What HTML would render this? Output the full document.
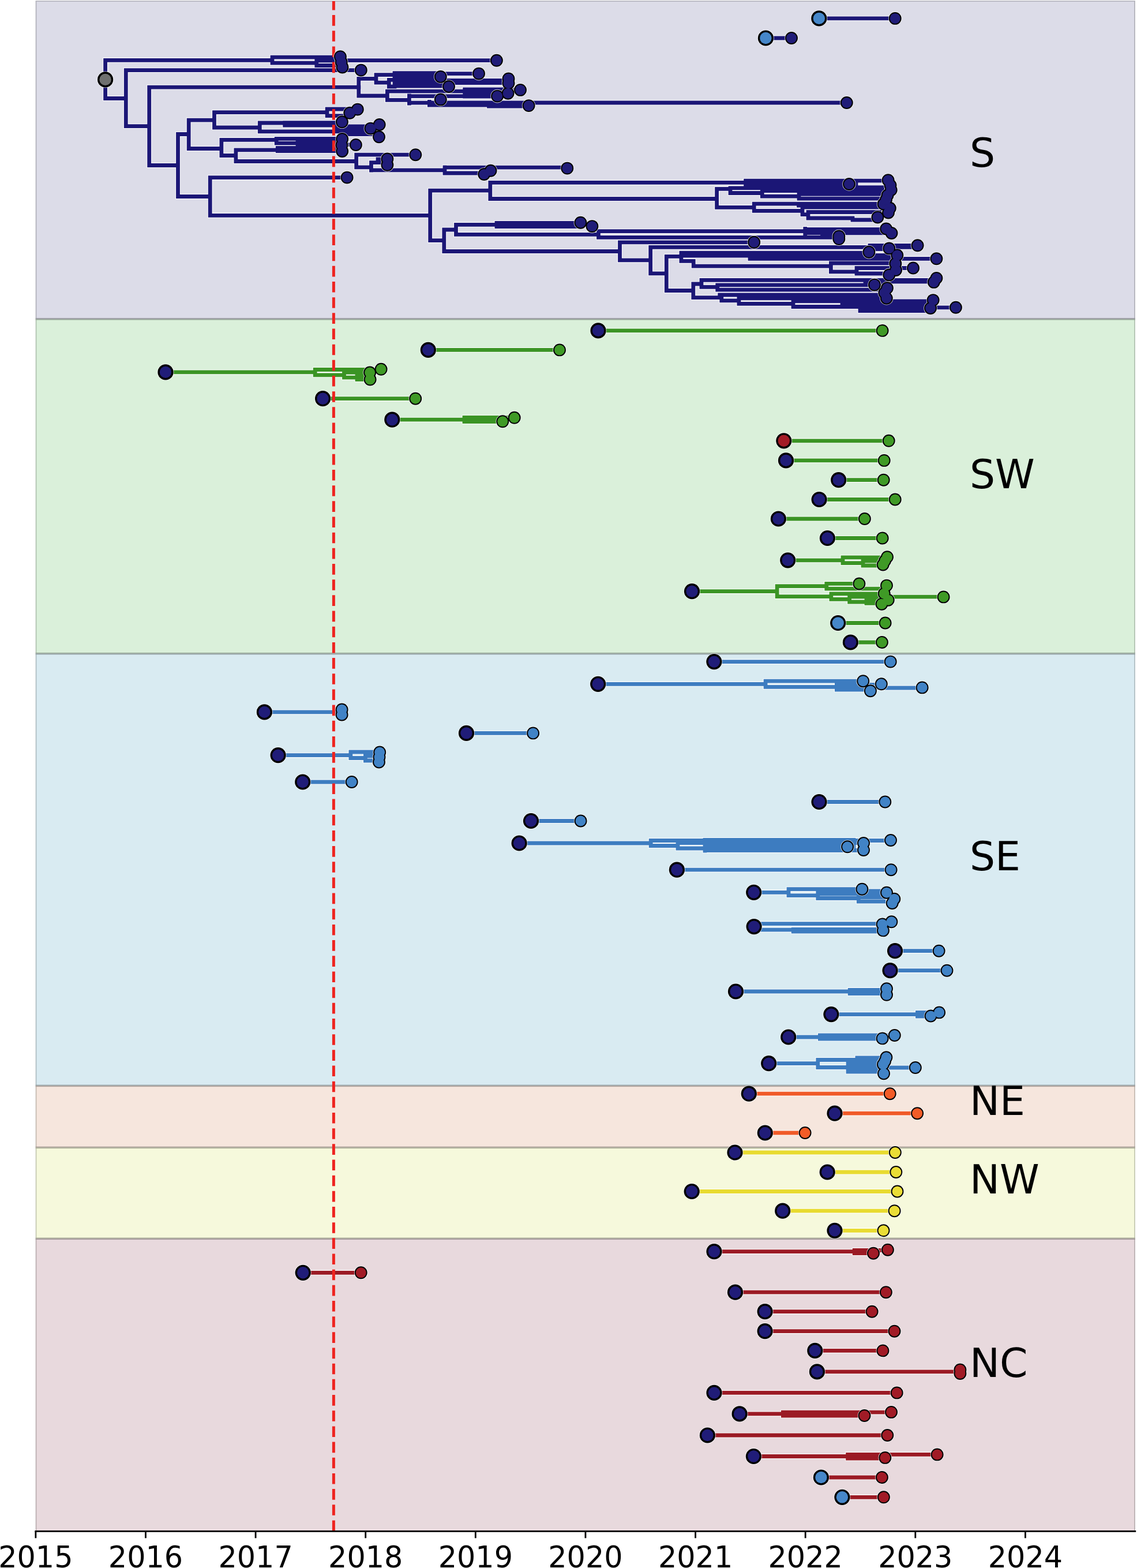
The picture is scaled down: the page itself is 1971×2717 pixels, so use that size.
<!DOCTYPE html><html><head><meta charset="utf-8"><title>Phylogeography timeline</title><style>html,body{margin:0;padding:0;background:#fff;}svg{display:block;}text{font-family:"DejaVu Sans","Liberation Sans",sans-serif;}</style></head><body>
<svg width="1971" height="2717" viewBox="0 0 1971 2717">
<rect x="0" y="0" width="1971" height="2717" fill="#fff"/>
<rect x="62.5" y="2.0" width="1904.5" height="550.8" fill="#dcdce8"/>
<rect x="62.5" y="552.8" width="1904.5" height="579.8" fill="#daf0da"/>
<rect x="62.5" y="1132.6" width="1904.5" height="748.8" fill="#d9ebf2"/>
<rect x="62.5" y="1881.4" width="1904.5" height="107.0" fill="#f6e6dd"/>
<rect x="62.5" y="1988.4" width="1904.5" height="157.9" fill="#f6f9dc"/>
<rect x="62.5" y="2146.3" width="1904.5" height="506.7" fill="#e8d9dd"/>
<rect x="61.7" y="2.0" width="1.7" height="550.8" fill="#b0b0b9"/>
<rect x="1966.1" y="2.0" width="1.7" height="550.8" fill="#b0b0b9"/>
<rect x="61.7" y="1.2" width="1906.2" height="1.6" fill="#b0b0b9"/>
<rect x="61.7" y="551.1" width="1906.2" height="1.7" fill="#9797a0"/>
<rect x="61.7" y="552.8" width="1.7" height="579.8" fill="#aec0ae"/>
<rect x="1966.1" y="552.8" width="1.7" height="579.8" fill="#aec0ae"/>
<rect x="61.7" y="552.8" width="1906.2" height="1.7" fill="#96a596"/>
<rect x="61.7" y="1130.9" width="1906.2" height="1.7" fill="#96a596"/>
<rect x="61.7" y="1132.6" width="1.7" height="748.8" fill="#adbcc1"/>
<rect x="1966.1" y="1132.6" width="1.7" height="748.8" fill="#adbcc1"/>
<rect x="61.7" y="1132.6" width="1906.2" height="1.7" fill="#95a2a6"/>
<rect x="61.7" y="1879.7" width="1906.2" height="1.7" fill="#95a2a6"/>
<rect x="61.7" y="1881.4" width="1.7" height="107.0" fill="#c4b8b0"/>
<rect x="1966.1" y="1881.4" width="1.7" height="107.0" fill="#c4b8b0"/>
<rect x="61.7" y="1881.4" width="1906.2" height="1.7" fill="#a99e98"/>
<rect x="61.7" y="1986.7" width="1906.2" height="1.7" fill="#a99e98"/>
<rect x="61.7" y="1988.4" width="1.7" height="157.9" fill="#c4c7b0"/>
<rect x="1966.1" y="1988.4" width="1.7" height="157.9" fill="#c4c7b0"/>
<rect x="61.7" y="1988.4" width="1906.2" height="1.7" fill="#a9ab97"/>
<rect x="61.7" y="2144.6" width="1906.2" height="1.7" fill="#a9ab97"/>
<rect x="61.7" y="2146.3" width="1.7" height="506.7" fill="#b9adb0"/>
<rect x="1966.1" y="2146.3" width="1.7" height="506.7" fill="#b9adb0"/>
<rect x="61.7" y="2146.3" width="1906.2" height="1.7" fill="#a09598"/>
<g font-size="69.5" fill="#000">
<text x="1681" y="288.7">S</text>
<text x="1681" y="846.3">SW</text>
<text x="1681" y="1507.5">SE</text>
<text x="1681" y="1932.4">NE</text>
<text x="1681" y="2067.5">NW</text>
<text x="1681" y="2386.3">NC</text>
</g>
<g fill="none" stroke-linecap="square" stroke-linejoin="miter">
<g stroke="#fff" stroke-width="9.0" stroke-opacity="0.88">
<path d="M1037.0 572.9H1529.6M742.3 606.4H970.0M287.0 644.9H546.2M546.2 640.5V649.8M546.2 640.5H660.6M546.2 649.8H596.5M596.5 645.4V654.2M596.5 645.4H641.0M596.5 654.2H619.0M619.0 651.0V657.5M619.0 651.0H641.0M619.0 657.5H641.0M559.6 690.7H720.2M679.8 727.2H805.0M805.0 723.5V730.5M805.0 723.5H891.7M805.0 730.5H871.3M1358.8 763.8H1540.7M1362.5 797.9H1532.7M1453.7 831.7H1531.7M1420.1 865.5H1551.7M1349.4 899.0H1498.9M1434.4 932.5H1529.7M1365.7 970.8H1461.0M1461.0 965.8V975.6M1461.0 965.8H1536.0M1461.0 975.6H1496.0M1496.0 972.0V980.0M1496.0 972.0H1532.0M1496.0 980.0H1530.0M1199.5 1024.7H1347.1M1347.1 1015.6V1033.6M1347.1 1015.6H1432.8M1432.8 1011.4V1020.2M1432.8 1011.4H1489.4M1432.8 1020.2H1530.0M1347.1 1033.6H1440.9M1440.9 1028.8V1038.3M1440.9 1028.8H1530.0M1440.9 1038.3H1472.6M1472.6 1034.2V1043.0M1472.6 1034.2H1635.6M1472.6 1043.0H1502.0M1502.0 1040.0V1045.4M1502.0 1040.0H1530.0M1502.0 1045.4H1530.0M1452.7 1079.5H1534.6M1474.4 1113.0H1528.9"/>
<path d="M1237.9 1146.6H1543.7M1036.7 1185.3H1327.1M1327.1 1180.2V1190.4M1327.1 1180.2H1496.2M1327.1 1190.4H1450.4M1450.4 1186.5V1195.0M1450.4 1186.5H1527.8M1450.4 1192.0H1598.6M1450.4 1195.0H1508.9M458.4 1233.9H592.6M808.5 1270.4H924.1M482.1 1308.7H607.9M607.9 1303.0V1313.5M607.9 1303.0H658.0M607.9 1313.5H633.4M633.4 1310.0V1318.0M633.4 1310.0H657.0M633.4 1318.0H657.0M524.7 1355.0H609.7M1420.0 1389.5H1534.3M920.5 1422.5H1006.6M900.1 1461.0H1128.2M1128.2 1456.5V1465.5M1128.2 1456.5H1544.0M1128.2 1465.5H1175.0M1175.0 1460.5V1470.0M1175.0 1460.5H1497.0M1175.0 1470.0H1222.0M1222.0 1464.0V1474.0M1222.0 1455.5H1480.0M1222.0 1460.0H1480.0M1222.0 1464.0H1480.0M1222.0 1468.0H1480.0M1222.0 1472.0H1480.0M1222.0 1473.5H1497.0M1173.4 1507.2H1544.6M1306.7 1546.3H1367.0M1367.0 1540.7V1551.6M1367.0 1540.7H1494.4M1367.0 1551.6H1417.8M1417.8 1549.2V1556.5M1417.8 1544.0H1532.0M1417.8 1549.2H1532.0M1417.8 1556.5H1488.3M1488.3 1554.5V1562.0M1488.3 1554.5H1545.0M1488.3 1562.0H1532.0M1307.1 1605.6H1314.0M1314.0 1600.6V1611.2M1314.0 1600.6H1530.0M1314.0 1611.2H1375.2M1375.2 1610.4V1614.0M1375.2 1610.4H1530.0M1375.2 1614.0H1530.0M1551.5 1647.7H1627.6M1543.0 1681.7H1641.5M1275.5 1718.0H1473.2M1473.2 1715.3V1721.5M1473.2 1715.3H1537.0M1473.2 1721.5H1537.0M1440.9 1757.6H1590.4M1590.4 1754.4V1761.0M1590.4 1754.4H1628.1M1590.4 1761.0H1613.5M1366.7 1797.0H1421.4M1421.4 1794.0V1800.0M1421.4 1794.0H1550.8M1421.4 1800.0H1529.6M1332.7 1842.7H1417.8M1417.8 1836.5V1849.5M1417.8 1836.5H1485.9M1485.9 1833.0V1845.0M1485.9 1833.0H1536.0M1485.9 1839.0H1536.0M1485.9 1845.0H1531.0M1417.8 1849.5H1470.0M1470.0 1843.0V1857.0M1470.0 1843.0H1531.0M1470.0 1850.0H1586.8M1485.9 1850.0V1857.0M1470.0 1857.0H1532.0"/>
<path d="M1298.3 1895.2H1542.7M1447.0 1929.2H1590.1M1326.3 1963.0H1395.6"/>
<path d="M1274.0 1997.0H1551.8M1434.2 2031.0H1553.3M1199.2 2064.5H1555.5M1356.7 2098.2H1550.6M1447.0 2132.3H1531.5"/>
<path d="M1238.0 2168.7H1481.2M1481.2 2166.5V2171.5M1481.2 2166.5H1538.9M1481.2 2171.5H1514.0M525.2 2205.3H625.7M1274.5 2239.2H1535.9M1326.1 2272.7H1511.6M1326.1 2306.7H1550.5M1412.8 2340.4H1530.4M1416.4 2376.9H1660.0M1660.0 2373.5V2380.0M1238.0 2413.4H1554.7M1282.1 2449.9H1357.4M1357.4 2447.2V2453.0M1357.4 2447.2H1545.0M1357.4 2453.0H1498.5M1226.4 2487.0H1538.3M1306.4 2523.5H1469.6M1469.6 2520.3V2527.0M1469.6 2520.3H1624.6M1469.6 2527.0H1534.3M1423.4 2560.0H1528.9M1459.9 2594.3H1531.9"/>
<path d="M1419.8 31.9H1551.7M1327.4 66.0H1372.0M182.6 104.3V170.5M182.6 104.3H472.0M182.6 170.5H218.3M218.3 121.8V218.6M218.3 121.6H625.8M218.3 218.6H258.7M258.7 151.2V286.5M258.7 151.1H622.0M258.7 286.5H308.5M308.5 232.5V340.5M308.5 232.5H327.2M327.2 208.1V257.5M327.2 208.1H371.5M371.5 194.6V221.0M472.0 99.2V109.2M472.0 99.2H590.0M472.0 109.2H548.8M548.8 105.0V113.5M548.8 105.0H590.0M548.8 113.5H590.0M590.0 104.6H860.9M621.8 136.4V166.0M621.8 136.4H652.0M652.0 129.6V143.2M652.0 129.6H684.0M652.0 143.2H674.3M674.3 138.3V150.0M684.0 126.7H766.0M684.0 131.0H766.0M684.0 135.5H766.0M684.0 140.0H766.0M684.0 144.5H766.0M684.0 149.0H766.0M674.3 138.3H684.0M674.3 150.0H684.0M684.0 126.7V149.0M766.0 127.6H830.0M775.0 139.4H880.0M775.0 143.7H880.0M805.7 155.0H874.0M805.7 159.0H874.0M805.7 163.0H874.0M805.7 167.0H874.0M874.0 155.9H902.0M621.8 166.0H668.5M671.4 158.2V173.4M671.4 158.2H805.7M671.4 173.4H706.4M709.4 166.0V179.2M709.4 166.6H805.7M709.4 178.2H743.4M744.4 176.3V182.1M744.4 178.0H1467.8M744.4 182.1H847.5M847.5 178.0H906.8M847.5 184.0H906.8M371.5 194.6H564.6M567.1 189.0V200.6M567.1 189.0H599.0M567.1 200.6H600.0M371.5 221.0H448.2M450.3 213.0V227.9M450.3 213.0H493.7M493.7 212.7V217.2M493.7 212.7H590.0M493.7 217.2H582.0M450.3 227.9H640.0M582.0 219.0H640.0M582.0 223.5H656.0M600.0 232.6H656.0M327.2 257.5H383.9M383.9 242.3V269.5M383.9 242.3H479.2M479.2 240.4V248.2M479.2 240.4H590.0M479.2 248.2H590.0M481.3 256.5V261.5M481.3 256.5H590.0M481.3 261.5H590.0M516.0 244.3H590.0M516.0 252.4H590.0M383.9 269.5H408.9M408.9 259.9V279.5M408.9 259.9H481.3M590.0 250.6H616.7M408.9 279.5H615.6M617.7 268.4V289.9M617.7 268.2H720.3M617.7 289.9H643.5M643.5 281.6V295.0M643.5 281.6H671.4M655.0 276.0H671.4M643.5 294.8H768.9M771.0 289.8V300.0M771.0 290.2H983.3M771.0 300.0H837.0M364.2 307.9V373.3M308.5 340.5H364.2M364.2 307.7H601.6M364.2 373.3H745.7M745.7 330.2V416.7M745.7 330.2H849.8M849.8 316.4V344.5M849.8 316.4H1293.6M849.8 344.5H1242.6M1242.6 327.4V359.3M1242.6 327.4H1266.0M1292.6 313.2V324.5M1292.6 313.2H1530.0M1292.6 316.4H1472.0M1292.6 320.0H1484.0M1292.6 324.6H1530.0M1266.0 325.8V334.5M1266.0 325.8H1530.0M1266.0 334.5H1319.0M1321.3 330.6V340.1M1321.3 330.6H1530.0M1321.3 340.1H1383.0M1385.0 336.4V344.1M1385.0 336.4H1530.0M1385.0 344.1H1525.0M1242.6 359.3H1306.4M1307.2 353.2V365.4M1307.2 353.2H1530.0M1384.5 356.0H1530.0M1307.2 365.4H1389.0M1391.0 359.0V371.6M1391.0 359.0H1530.0M1391.0 371.6H1400.0M1401.0 367.5V378.0M1401.0 367.5H1525.0M1401.0 378.0H1478.0M1478.0 381.0H1521.3M1478.0 378.0V381.0M745.7 416.7H769.8M769.8 398.0V435.7M769.8 398.0H790.5M790.5 389.3V406.3M790.5 389.3H861.0M861.0 386.5V392.5M861.0 386.5H1000.0M861.0 392.5H1000.0M790.5 406.3H1036.2M1037.5 400.6V411.3M1037.5 400.6H1395.7M1037.5 411.3H1425.5M1395.7 396.5V404.5M1395.7 397.5H1528.0M1395.7 403.8H1540.0M1425.5 406.0V411.3M1425.5 406.0H1443.0M1425.5 411.3H1454.0M769.8 435.5H1072.3M1074.5 419.8V450.9M1074.5 419.8H1307.2M1074.5 450.9H1127.7M1127.7 428.3V473.8M1127.7 428.3H1590.6M1508.0 425.3H1590.6M1508.0 431.5H1541.3M1508.0 425.3V431.5M1127.7 473.8H1153.2M1155.3 444.4V503.5M1155.3 444.4H1178.7M1180.9 438.1V452.4M1180.9 438.1H1506.4M1180.9 443.1H1500.0M1500.0 442.3H1555.3M1180.9 452.4H1200.0M1202.2 452.4V461.2M1300.0 448.3H1623.4M1202.2 461.2H1438.3M1440.4 456.0V470.9M1440.4 456.0H1552.3M1440.4 470.9H1483.0M1485.0 464.5V474.0M1485.0 464.5H1583.0M1485.0 474.0H1541.3M1155.3 503.5H1201.8M1201.8 492.0V515.6M1201.8 492.0H1216.0M1216.0 485.3V497.4M1216.0 485.3H1620.0M1216.0 497.4H1240.6M1243.7 493.8V502.2M1243.7 493.8H1530.0M1243.7 502.2H1530.0M1247.7 510.8H1530.0M1201.8 515.6H1248.0M1250.8 511.2V520.8M1250.8 511.2H1530.0M1250.8 520.8H1277.7M1280.9 516.9V526.4M1280.9 516.9H1530.0M1280.9 526.4H1371.0M1375.0 521.9V531.5M1375.0 521.9H1617.6M1375.0 531.5H1491.0M1460.0 526.0H1530.0M1491.0 528.0V538.6M1491.0 528.0H1613.0M1491.0 532.8H1656.9M1491.0 538.6H1613.0M1500.0 488.0H1620.0"/>
</g>
<path stroke="#3a9424" stroke-width="6.8" d="M1037.0 572.9H1529.6M742.3 606.4H970.0M287.0 644.9H546.2M546.2 640.5V649.8M546.2 640.5H660.6M546.2 649.8H596.5M596.5 645.4V654.2M596.5 645.4H641.0M596.5 654.2H619.0M619.0 651.0V657.5M619.0 651.0H641.0M619.0 657.5H641.0M559.6 690.7H720.2M679.8 727.2H805.0M805.0 723.5V730.5M805.0 723.5H891.7M805.0 730.5H871.3M1358.8 763.8H1540.7M1362.5 797.9H1532.7M1453.7 831.7H1531.7M1420.1 865.5H1551.7M1349.4 899.0H1498.9M1434.4 932.5H1529.7M1365.7 970.8H1461.0M1461.0 965.8V975.6M1461.0 965.8H1536.0M1461.0 975.6H1496.0M1496.0 972.0V980.0M1496.0 972.0H1532.0M1496.0 980.0H1530.0M1199.5 1024.7H1347.1M1347.1 1015.6V1033.6M1347.1 1015.6H1432.8M1432.8 1011.4V1020.2M1432.8 1011.4H1489.4M1432.8 1020.2H1530.0M1347.1 1033.6H1440.9M1440.9 1028.8V1038.3M1440.9 1028.8H1530.0M1440.9 1038.3H1472.6M1472.6 1034.2V1043.0M1472.6 1034.2H1635.6M1472.6 1043.0H1502.0M1502.0 1040.0V1045.4M1502.0 1040.0H1530.0M1502.0 1045.4H1530.0M1452.7 1079.5H1534.6M1474.4 1113.0H1528.9"/>
<path stroke="#3d7cc0" stroke-width="6.8" d="M1237.9 1146.6H1543.7M1036.7 1185.3H1327.1M1327.1 1180.2V1190.4M1327.1 1180.2H1496.2M1327.1 1190.4H1450.4M1450.4 1186.5V1195.0M1450.4 1186.5H1527.8M1450.4 1192.0H1598.6M1450.4 1195.0H1508.9M458.4 1233.9H592.6M808.5 1270.4H924.1M482.1 1308.7H607.9M607.9 1303.0V1313.5M607.9 1303.0H658.0M607.9 1313.5H633.4M633.4 1310.0V1318.0M633.4 1310.0H657.0M633.4 1318.0H657.0M524.7 1355.0H609.7M1420.0 1389.5H1534.3M920.5 1422.5H1006.6M900.1 1461.0H1128.2M1128.2 1456.5V1465.5M1128.2 1456.5H1544.0M1128.2 1465.5H1175.0M1175.0 1460.5V1470.0M1175.0 1460.5H1497.0M1175.0 1470.0H1222.0M1222.0 1464.0V1474.0M1222.0 1455.5H1480.0M1222.0 1460.0H1480.0M1222.0 1464.0H1480.0M1222.0 1468.0H1480.0M1222.0 1472.0H1480.0M1222.0 1473.5H1497.0M1173.4 1507.2H1544.6M1306.7 1546.3H1367.0M1367.0 1540.7V1551.6M1367.0 1540.7H1494.4M1367.0 1551.6H1417.8M1417.8 1549.2V1556.5M1417.8 1544.0H1532.0M1417.8 1549.2H1532.0M1417.8 1556.5H1488.3M1488.3 1554.5V1562.0M1488.3 1554.5H1545.0M1488.3 1562.0H1532.0M1307.1 1605.6H1314.0M1314.0 1600.6V1611.2M1314.0 1600.6H1530.0M1314.0 1611.2H1375.2M1375.2 1610.4V1614.0M1375.2 1610.4H1530.0M1375.2 1614.0H1530.0M1551.5 1647.7H1627.6M1543.0 1681.7H1641.5M1275.5 1718.0H1473.2M1473.2 1715.3V1721.5M1473.2 1715.3H1537.0M1473.2 1721.5H1537.0M1440.9 1757.6H1590.4M1590.4 1754.4V1761.0M1590.4 1754.4H1628.1M1590.4 1761.0H1613.5M1366.7 1797.0H1421.4M1421.4 1794.0V1800.0M1421.4 1794.0H1550.8M1421.4 1800.0H1529.6M1332.7 1842.7H1417.8M1417.8 1836.5V1849.5M1417.8 1836.5H1485.9M1485.9 1833.0V1845.0M1485.9 1833.0H1536.0M1485.9 1839.0H1536.0M1485.9 1845.0H1531.0M1417.8 1849.5H1470.0M1470.0 1843.0V1857.0M1470.0 1843.0H1531.0M1470.0 1850.0H1586.8M1485.9 1850.0V1857.0M1470.0 1857.0H1532.0"/>
<path stroke="#f05a28" stroke-width="6.8" d="M1298.3 1895.2H1542.7M1447.0 1929.2H1590.1M1326.3 1963.0H1395.6"/>
<path stroke="#e8db30" stroke-width="6.8" d="M1274.0 1997.0H1551.8M1434.2 2031.0H1553.3M1199.2 2064.5H1555.5M1356.7 2098.2H1550.6M1447.0 2132.3H1531.5"/>
<path stroke="#9b1a24" stroke-width="6.8" d="M1238.0 2168.7H1481.2M1481.2 2166.5V2171.5M1481.2 2166.5H1538.9M1481.2 2171.5H1514.0M525.2 2205.3H625.7M1274.5 2239.2H1535.9M1326.1 2272.7H1511.6M1326.1 2306.7H1550.5M1412.8 2340.4H1530.4M1416.4 2376.9H1660.0M1660.0 2373.5V2380.0M1238.0 2413.4H1554.7M1282.1 2449.9H1357.4M1357.4 2447.2V2453.0M1357.4 2447.2H1545.0M1357.4 2453.0H1498.5M1226.4 2487.0H1538.3M1306.4 2523.5H1469.6M1469.6 2520.3V2527.0M1469.6 2520.3H1624.6M1469.6 2527.0H1534.3M1423.4 2560.0H1528.9M1459.9 2594.3H1531.9"/>
<path stroke="#1b1676" stroke-width="6.8" d="M1419.8 31.9H1551.7M1327.4 66.0H1372.0M182.6 104.3V170.5M182.6 104.3H472.0M182.6 170.5H218.3M218.3 121.8V218.6M218.3 121.6H625.8M218.3 218.6H258.7M258.7 151.2V286.5M258.7 151.1H622.0M258.7 286.5H308.5M308.5 232.5V340.5M308.5 232.5H327.2M327.2 208.1V257.5M327.2 208.1H371.5M371.5 194.6V221.0M472.0 99.2V109.2M472.0 99.2H590.0M472.0 109.2H548.8M548.8 105.0V113.5M548.8 105.0H590.0M548.8 113.5H590.0M590.0 104.6H860.9M621.8 136.4V166.0M621.8 136.4H652.0M652.0 129.6V143.2M652.0 129.6H684.0M652.0 143.2H674.3M674.3 138.3V150.0M684.0 126.7H766.0M684.0 131.0H766.0M684.0 135.5H766.0M684.0 140.0H766.0M684.0 144.5H766.0M684.0 149.0H766.0M674.3 138.3H684.0M674.3 150.0H684.0M684.0 126.7V149.0M766.0 127.6H830.0M775.0 139.4H880.0M775.0 143.7H880.0M805.7 155.0H874.0M805.7 159.0H874.0M805.7 163.0H874.0M805.7 167.0H874.0M874.0 155.9H902.0M621.8 166.0H668.5M671.4 158.2V173.4M671.4 158.2H805.7M671.4 173.4H706.4M709.4 166.0V179.2M709.4 166.6H805.7M709.4 178.2H743.4M744.4 176.3V182.1M744.4 178.0H1467.8M744.4 182.1H847.5M847.5 178.0H906.8M847.5 184.0H906.8M371.5 194.6H564.6M567.1 189.0V200.6M567.1 189.0H599.0M567.1 200.6H600.0M371.5 221.0H448.2M450.3 213.0V227.9M450.3 213.0H493.7M493.7 212.7V217.2M493.7 212.7H590.0M493.7 217.2H582.0M450.3 227.9H640.0M582.0 219.0H640.0M582.0 223.5H656.0M600.0 232.6H656.0M327.2 257.5H383.9M383.9 242.3V269.5M383.9 242.3H479.2M479.2 240.4V248.2M479.2 240.4H590.0M479.2 248.2H590.0M481.3 256.5V261.5M481.3 256.5H590.0M481.3 261.5H590.0M516.0 244.3H590.0M516.0 252.4H590.0M383.9 269.5H408.9M408.9 259.9V279.5M408.9 259.9H481.3M590.0 250.6H616.7M408.9 279.5H615.6M617.7 268.4V289.9M617.7 268.2H720.3M617.7 289.9H643.5M643.5 281.6V295.0M643.5 281.6H671.4M655.0 276.0H671.4M643.5 294.8H768.9M771.0 289.8V300.0M771.0 290.2H983.3M771.0 300.0H837.0M364.2 307.9V373.3M308.5 340.5H364.2M364.2 307.7H601.6M364.2 373.3H745.7M745.7 330.2V416.7M745.7 330.2H849.8M849.8 316.4V344.5M849.8 316.4H1293.6M849.8 344.5H1242.6M1242.6 327.4V359.3M1242.6 327.4H1266.0M1292.6 313.2V324.5M1292.6 313.2H1530.0M1292.6 316.4H1472.0M1292.6 320.0H1484.0M1292.6 324.6H1530.0M1266.0 325.8V334.5M1266.0 325.8H1530.0M1266.0 334.5H1319.0M1321.3 330.6V340.1M1321.3 330.6H1530.0M1321.3 340.1H1383.0M1385.0 336.4V344.1M1385.0 336.4H1530.0M1385.0 344.1H1525.0M1242.6 359.3H1306.4M1307.2 353.2V365.4M1307.2 353.2H1530.0M1384.5 356.0H1530.0M1307.2 365.4H1389.0M1391.0 359.0V371.6M1391.0 359.0H1530.0M1391.0 371.6H1400.0M1401.0 367.5V378.0M1401.0 367.5H1525.0M1401.0 378.0H1478.0M1478.0 381.0H1521.3M1478.0 378.0V381.0M745.7 416.7H769.8M769.8 398.0V435.7M769.8 398.0H790.5M790.5 389.3V406.3M790.5 389.3H861.0M861.0 386.5V392.5M861.0 386.5H1000.0M861.0 392.5H1000.0M790.5 406.3H1036.2M1037.5 400.6V411.3M1037.5 400.6H1395.7M1037.5 411.3H1425.5M1395.7 396.5V404.5M1395.7 397.5H1528.0M1395.7 403.8H1540.0M1425.5 406.0V411.3M1425.5 406.0H1443.0M1425.5 411.3H1454.0M769.8 435.5H1072.3M1074.5 419.8V450.9M1074.5 419.8H1307.2M1074.5 450.9H1127.7M1127.7 428.3V473.8M1127.7 428.3H1590.6M1508.0 425.3H1590.6M1508.0 431.5H1541.3M1508.0 425.3V431.5M1127.7 473.8H1153.2M1155.3 444.4V503.5M1155.3 444.4H1178.7M1180.9 438.1V452.4M1180.9 438.1H1506.4M1180.9 443.1H1500.0M1500.0 442.3H1555.3M1180.9 452.4H1200.0M1202.2 452.4V461.2M1300.0 448.3H1623.4M1202.2 461.2H1438.3M1440.4 456.0V470.9M1440.4 456.0H1552.3M1440.4 470.9H1483.0M1485.0 464.5V474.0M1485.0 464.5H1583.0M1485.0 474.0H1541.3M1155.3 503.5H1201.8M1201.8 492.0V515.6M1201.8 492.0H1216.0M1216.0 485.3V497.4M1216.0 485.3H1620.0M1216.0 497.4H1240.6M1243.7 493.8V502.2M1243.7 493.8H1530.0M1243.7 502.2H1530.0M1247.7 510.8H1530.0M1201.8 515.6H1248.0M1250.8 511.2V520.8M1250.8 511.2H1530.0M1250.8 520.8H1277.7M1280.9 516.9V526.4M1280.9 516.9H1530.0M1280.9 526.4H1371.0M1375.0 521.9V531.5M1375.0 521.9H1617.6M1375.0 531.5H1491.0M1460.0 526.0H1530.0M1491.0 528.0V538.6M1491.0 528.0H1613.0M1491.0 532.8H1656.9M1491.0 538.6H1613.0M1500.0 488.0H1620.0"/>
</g>
<path d="M578.4 2653V2" stroke="#ee2420" stroke-width="5" stroke-dasharray="18.6 8.57" fill="none"/>
<circle cx="1037.0" cy="572.9" r="14.45" fill="#fff" fill-opacity="0.75"/>
<circle cx="1529.6" cy="572.9" r="11.80" fill="#fff" fill-opacity="0.75"/>
<circle cx="742.3" cy="606.4" r="14.45" fill="#fff" fill-opacity="0.75"/>
<circle cx="970.0" cy="606.4" r="11.80" fill="#fff" fill-opacity="0.75"/>
<circle cx="287.0" cy="644.9" r="14.45" fill="#fff" fill-opacity="0.75"/>
<circle cx="641.1" cy="645.5" r="11.80" fill="#fff" fill-opacity="0.75"/>
<circle cx="641.6" cy="657.6" r="11.80" fill="#fff" fill-opacity="0.75"/>
<circle cx="660.6" cy="639.8" r="11.80" fill="#fff" fill-opacity="0.75"/>
<circle cx="559.6" cy="690.7" r="14.45" fill="#fff" fill-opacity="0.75"/>
<circle cx="720.2" cy="690.7" r="11.80" fill="#fff" fill-opacity="0.75"/>
<circle cx="679.8" cy="727.2" r="14.45" fill="#fff" fill-opacity="0.75"/>
<circle cx="871.3" cy="730.3" r="11.80" fill="#fff" fill-opacity="0.75"/>
<circle cx="891.7" cy="723.8" r="11.80" fill="#fff" fill-opacity="0.75"/>
<circle cx="1358.8" cy="763.8" r="14.45" fill="#fff" fill-opacity="0.75"/>
<circle cx="1540.7" cy="763.8" r="11.80" fill="#fff" fill-opacity="0.75"/>
<circle cx="1362.5" cy="797.9" r="14.45" fill="#fff" fill-opacity="0.75"/>
<circle cx="1532.7" cy="797.9" r="11.80" fill="#fff" fill-opacity="0.75"/>
<circle cx="1453.7" cy="831.7" r="14.45" fill="#fff" fill-opacity="0.75"/>
<circle cx="1531.7" cy="831.7" r="11.80" fill="#fff" fill-opacity="0.75"/>
<circle cx="1420.1" cy="865.5" r="14.45" fill="#fff" fill-opacity="0.75"/>
<circle cx="1551.7" cy="865.5" r="11.80" fill="#fff" fill-opacity="0.75"/>
<circle cx="1349.4" cy="899.0" r="14.45" fill="#fff" fill-opacity="0.75"/>
<circle cx="1498.9" cy="899.0" r="11.80" fill="#fff" fill-opacity="0.75"/>
<circle cx="1434.4" cy="932.5" r="14.45" fill="#fff" fill-opacity="0.75"/>
<circle cx="1529.7" cy="932.5" r="11.80" fill="#fff" fill-opacity="0.75"/>
<circle cx="1365.7" cy="970.8" r="14.45" fill="#fff" fill-opacity="0.75"/>
<circle cx="1538.0" cy="965.2" r="11.80" fill="#fff" fill-opacity="0.75"/>
<circle cx="1534.0" cy="971.8" r="11.80" fill="#fff" fill-opacity="0.75"/>
<circle cx="1530.6" cy="978.5" r="11.80" fill="#fff" fill-opacity="0.75"/>
<circle cx="1199.5" cy="1024.7" r="14.45" fill="#fff" fill-opacity="0.75"/>
<circle cx="1489.4" cy="1011.5" r="11.80" fill="#fff" fill-opacity="0.75"/>
<circle cx="1537.0" cy="1014.6" r="11.80" fill="#fff" fill-opacity="0.75"/>
<circle cx="1532.7" cy="1028.6" r="11.80" fill="#fff" fill-opacity="0.75"/>
<circle cx="1539.7" cy="1039.7" r="11.80" fill="#fff" fill-opacity="0.75"/>
<circle cx="1528.5" cy="1046.7" r="11.80" fill="#fff" fill-opacity="0.75"/>
<circle cx="1635.6" cy="1034.4" r="11.80" fill="#fff" fill-opacity="0.75"/>
<circle cx="1452.7" cy="1079.5" r="14.45" fill="#fff" fill-opacity="0.75"/>
<circle cx="1534.6" cy="1079.5" r="11.80" fill="#fff" fill-opacity="0.75"/>
<circle cx="1474.4" cy="1113.0" r="14.45" fill="#fff" fill-opacity="0.75"/>
<circle cx="1528.9" cy="1113.0" r="11.80" fill="#fff" fill-opacity="0.75"/>
<circle cx="1237.9" cy="1146.6" r="14.45" fill="#fff" fill-opacity="0.75"/>
<circle cx="1543.7" cy="1146.6" r="11.80" fill="#fff" fill-opacity="0.75"/>
<circle cx="1036.7" cy="1185.3" r="14.45" fill="#fff" fill-opacity="0.75"/>
<circle cx="1496.2" cy="1180.2" r="11.80" fill="#fff" fill-opacity="0.75"/>
<circle cx="1527.8" cy="1185.3" r="11.80" fill="#fff" fill-opacity="0.75"/>
<circle cx="1598.6" cy="1191.4" r="11.80" fill="#fff" fill-opacity="0.75"/>
<circle cx="1508.9" cy="1197.2" r="11.80" fill="#fff" fill-opacity="0.75"/>
<circle cx="458.4" cy="1233.9" r="14.45" fill="#fff" fill-opacity="0.75"/>
<circle cx="592.6" cy="1229.5" r="11.80" fill="#fff" fill-opacity="0.75"/>
<circle cx="592.6" cy="1238.5" r="11.80" fill="#fff" fill-opacity="0.75"/>
<circle cx="808.5" cy="1270.4" r="14.45" fill="#fff" fill-opacity="0.75"/>
<circle cx="924.1" cy="1270.4" r="11.80" fill="#fff" fill-opacity="0.75"/>
<circle cx="482.1" cy="1308.7" r="14.45" fill="#fff" fill-opacity="0.75"/>
<circle cx="658.2" cy="1303.5" r="11.80" fill="#fff" fill-opacity="0.75"/>
<circle cx="657.5" cy="1312.0" r="11.80" fill="#fff" fill-opacity="0.75"/>
<circle cx="657.0" cy="1320.5" r="11.80" fill="#fff" fill-opacity="0.75"/>
<circle cx="524.7" cy="1355.0" r="14.45" fill="#fff" fill-opacity="0.75"/>
<circle cx="609.7" cy="1355.0" r="11.80" fill="#fff" fill-opacity="0.75"/>
<circle cx="1420.0" cy="1389.5" r="14.45" fill="#fff" fill-opacity="0.75"/>
<circle cx="1534.3" cy="1389.5" r="11.80" fill="#fff" fill-opacity="0.75"/>
<circle cx="920.5" cy="1422.5" r="14.45" fill="#fff" fill-opacity="0.75"/>
<circle cx="1006.6" cy="1422.5" r="11.80" fill="#fff" fill-opacity="0.75"/>
<circle cx="900.1" cy="1461.0" r="14.45" fill="#fff" fill-opacity="0.75"/>
<circle cx="1544.0" cy="1456.0" r="11.80" fill="#fff" fill-opacity="0.75"/>
<circle cx="1469.1" cy="1467.3" r="11.80" fill="#fff" fill-opacity="0.75"/>
<circle cx="1497.0" cy="1461.0" r="11.80" fill="#fff" fill-opacity="0.75"/>
<circle cx="1497.0" cy="1473.0" r="11.80" fill="#fff" fill-opacity="0.75"/>
<circle cx="1173.4" cy="1507.2" r="14.45" fill="#fff" fill-opacity="0.75"/>
<circle cx="1544.6" cy="1507.2" r="11.80" fill="#fff" fill-opacity="0.75"/>
<circle cx="1306.7" cy="1546.3" r="14.45" fill="#fff" fill-opacity="0.75"/>
<circle cx="1494.4" cy="1540.7" r="11.80" fill="#fff" fill-opacity="0.75"/>
<circle cx="1537.0" cy="1546.7" r="11.80" fill="#fff" fill-opacity="0.75"/>
<circle cx="1550.3" cy="1557.7" r="11.80" fill="#fff" fill-opacity="0.75"/>
<circle cx="1546.7" cy="1565.0" r="11.80" fill="#fff" fill-opacity="0.75"/>
<circle cx="1307.1" cy="1605.6" r="14.45" fill="#fff" fill-opacity="0.75"/>
<circle cx="1529.6" cy="1601.5" r="11.80" fill="#fff" fill-opacity="0.75"/>
<circle cx="1545.4" cy="1597.3" r="11.80" fill="#fff" fill-opacity="0.75"/>
<circle cx="1530.9" cy="1612.4" r="11.80" fill="#fff" fill-opacity="0.75"/>
<circle cx="1551.5" cy="1647.7" r="14.45" fill="#fff" fill-opacity="0.75"/>
<circle cx="1627.6" cy="1647.7" r="11.80" fill="#fff" fill-opacity="0.75"/>
<circle cx="1543.0" cy="1681.7" r="14.45" fill="#fff" fill-opacity="0.75"/>
<circle cx="1641.5" cy="1681.7" r="11.80" fill="#fff" fill-opacity="0.75"/>
<circle cx="1275.5" cy="1718.0" r="14.45" fill="#fff" fill-opacity="0.75"/>
<circle cx="1537.0" cy="1713.3" r="11.80" fill="#fff" fill-opacity="0.75"/>
<circle cx="1537.0" cy="1723.8" r="11.80" fill="#fff" fill-opacity="0.75"/>
<circle cx="1440.9" cy="1757.6" r="14.45" fill="#fff" fill-opacity="0.75"/>
<circle cx="1613.5" cy="1760.5" r="11.80" fill="#fff" fill-opacity="0.75"/>
<circle cx="1628.1" cy="1754.4" r="11.80" fill="#fff" fill-opacity="0.75"/>
<circle cx="1366.7" cy="1797.0" r="14.45" fill="#fff" fill-opacity="0.75"/>
<circle cx="1529.6" cy="1799.4" r="11.80" fill="#fff" fill-opacity="0.75"/>
<circle cx="1550.8" cy="1794.0" r="11.80" fill="#fff" fill-opacity="0.75"/>
<circle cx="1332.7" cy="1842.7" r="14.45" fill="#fff" fill-opacity="0.75"/>
<circle cx="1536.4" cy="1832.3" r="11.80" fill="#fff" fill-opacity="0.75"/>
<circle cx="1530.9" cy="1844.4" r="11.80" fill="#fff" fill-opacity="0.75"/>
<circle cx="1534.0" cy="1839.0" r="11.80" fill="#fff" fill-opacity="0.75"/>
<circle cx="1532.0" cy="1860.2" r="11.80" fill="#fff" fill-opacity="0.75"/>
<circle cx="1586.8" cy="1850.0" r="11.80" fill="#fff" fill-opacity="0.75"/>
<circle cx="1298.3" cy="1895.2" r="14.45" fill="#fff" fill-opacity="0.75"/>
<circle cx="1542.7" cy="1895.2" r="11.80" fill="#fff" fill-opacity="0.75"/>
<circle cx="1447.0" cy="1929.2" r="14.45" fill="#fff" fill-opacity="0.75"/>
<circle cx="1590.1" cy="1929.2" r="11.80" fill="#fff" fill-opacity="0.75"/>
<circle cx="1326.3" cy="1963.0" r="14.45" fill="#fff" fill-opacity="0.75"/>
<circle cx="1395.6" cy="1963.0" r="11.80" fill="#fff" fill-opacity="0.75"/>
<circle cx="1274.0" cy="1997.0" r="14.45" fill="#fff" fill-opacity="0.75"/>
<circle cx="1551.8" cy="1997.0" r="11.80" fill="#fff" fill-opacity="0.75"/>
<circle cx="1434.2" cy="2031.0" r="14.45" fill="#fff" fill-opacity="0.75"/>
<circle cx="1553.3" cy="2031.0" r="11.80" fill="#fff" fill-opacity="0.75"/>
<circle cx="1199.2" cy="2064.5" r="14.45" fill="#fff" fill-opacity="0.75"/>
<circle cx="1555.5" cy="2064.5" r="11.80" fill="#fff" fill-opacity="0.75"/>
<circle cx="1356.7" cy="2098.2" r="14.45" fill="#fff" fill-opacity="0.75"/>
<circle cx="1550.6" cy="2098.2" r="11.80" fill="#fff" fill-opacity="0.75"/>
<circle cx="1447.0" cy="2132.3" r="14.45" fill="#fff" fill-opacity="0.75"/>
<circle cx="1531.5" cy="2132.3" r="11.80" fill="#fff" fill-opacity="0.75"/>
<circle cx="1238.0" cy="2168.7" r="14.45" fill="#fff" fill-opacity="0.75"/>
<circle cx="1514.0" cy="2171.7" r="11.80" fill="#fff" fill-opacity="0.75"/>
<circle cx="1538.9" cy="2165.7" r="11.80" fill="#fff" fill-opacity="0.75"/>
<circle cx="525.2" cy="2205.3" r="14.45" fill="#fff" fill-opacity="0.75"/>
<circle cx="625.7" cy="2205.3" r="11.80" fill="#fff" fill-opacity="0.75"/>
<circle cx="1274.5" cy="2239.2" r="14.45" fill="#fff" fill-opacity="0.75"/>
<circle cx="1535.9" cy="2239.2" r="11.80" fill="#fff" fill-opacity="0.75"/>
<circle cx="1326.1" cy="2272.7" r="14.45" fill="#fff" fill-opacity="0.75"/>
<circle cx="1511.6" cy="2272.7" r="11.80" fill="#fff" fill-opacity="0.75"/>
<circle cx="1326.1" cy="2306.7" r="14.45" fill="#fff" fill-opacity="0.75"/>
<circle cx="1550.5" cy="2306.7" r="11.80" fill="#fff" fill-opacity="0.75"/>
<circle cx="1412.8" cy="2340.4" r="14.45" fill="#fff" fill-opacity="0.75"/>
<circle cx="1530.4" cy="2340.4" r="11.80" fill="#fff" fill-opacity="0.75"/>
<circle cx="1416.4" cy="2376.9" r="14.45" fill="#fff" fill-opacity="0.75"/>
<circle cx="1664.4" cy="2373.5" r="11.80" fill="#fff" fill-opacity="0.75"/>
<circle cx="1664.4" cy="2380.0" r="11.80" fill="#fff" fill-opacity="0.75"/>
<circle cx="1238.0" cy="2413.4" r="14.45" fill="#fff" fill-opacity="0.75"/>
<circle cx="1554.7" cy="2413.4" r="11.80" fill="#fff" fill-opacity="0.75"/>
<circle cx="1282.1" cy="2449.9" r="14.45" fill="#fff" fill-opacity="0.75"/>
<circle cx="1498.5" cy="2453.0" r="11.80" fill="#fff" fill-opacity="0.75"/>
<circle cx="1545.0" cy="2446.9" r="11.80" fill="#fff" fill-opacity="0.75"/>
<circle cx="1226.4" cy="2487.0" r="14.45" fill="#fff" fill-opacity="0.75"/>
<circle cx="1538.3" cy="2487.0" r="11.80" fill="#fff" fill-opacity="0.75"/>
<circle cx="1306.4" cy="2523.5" r="14.45" fill="#fff" fill-opacity="0.75"/>
<circle cx="1534.3" cy="2525.9" r="11.80" fill="#fff" fill-opacity="0.75"/>
<circle cx="1624.6" cy="2520.4" r="11.80" fill="#fff" fill-opacity="0.75"/>
<circle cx="1423.4" cy="2560.0" r="14.45" fill="#fff" fill-opacity="0.75"/>
<circle cx="1528.9" cy="2560.0" r="11.80" fill="#fff" fill-opacity="0.75"/>
<circle cx="1459.9" cy="2594.3" r="14.45" fill="#fff" fill-opacity="0.75"/>
<circle cx="1531.9" cy="2594.3" r="11.80" fill="#fff" fill-opacity="0.75"/>
<circle cx="1419.8" cy="31.9" r="14.45" fill="#fff" fill-opacity="0.75"/>
<circle cx="1551.7" cy="31.9" r="11.80" fill="#fff" fill-opacity="0.75"/>
<circle cx="1327.4" cy="66.0" r="14.45" fill="#fff" fill-opacity="0.75"/>
<circle cx="1372.0" cy="66.0" r="11.80" fill="#fff" fill-opacity="0.75"/>
<circle cx="625.8" cy="121.6" r="11.80" fill="#fff" fill-opacity="0.75"/>
<circle cx="860.9" cy="104.8" r="11.80" fill="#fff" fill-opacity="0.75"/>
<circle cx="589.9" cy="98.2" r="11.80" fill="#fff" fill-opacity="0.75"/>
<circle cx="591.7" cy="107.4" r="11.80" fill="#fff" fill-opacity="0.75"/>
<circle cx="593.5" cy="116.5" r="11.80" fill="#fff" fill-opacity="0.75"/>
<circle cx="830.0" cy="127.6" r="11.80" fill="#fff" fill-opacity="0.75"/>
<circle cx="763.8" cy="132.9" r="11.80" fill="#fff" fill-opacity="0.75"/>
<circle cx="778.0" cy="150.0" r="11.80" fill="#fff" fill-opacity="0.75"/>
<circle cx="881.5" cy="136.4" r="11.80" fill="#fff" fill-opacity="0.75"/>
<circle cx="881.5" cy="144.2" r="11.80" fill="#fff" fill-opacity="0.75"/>
<circle cx="902.0" cy="155.9" r="11.80" fill="#fff" fill-opacity="0.75"/>
<circle cx="880.6" cy="161.7" r="11.80" fill="#fff" fill-opacity="0.75"/>
<circle cx="862.1" cy="166.6" r="11.80" fill="#fff" fill-opacity="0.75"/>
<circle cx="1467.8" cy="178.0" r="11.80" fill="#fff" fill-opacity="0.75"/>
<circle cx="916.6" cy="183.1" r="11.80" fill="#fff" fill-opacity="0.75"/>
<circle cx="763.8" cy="172.4" r="11.80" fill="#fff" fill-opacity="0.75"/>
<circle cx="619.8" cy="189.6" r="11.80" fill="#fff" fill-opacity="0.75"/>
<circle cx="606.3" cy="195.8" r="11.80" fill="#fff" fill-opacity="0.75"/>
<circle cx="592.9" cy="211.3" r="11.80" fill="#fff" fill-opacity="0.75"/>
<circle cx="642.4" cy="222.6" r="11.80" fill="#fff" fill-opacity="0.75"/>
<circle cx="657.7" cy="216.0" r="11.80" fill="#fff" fill-opacity="0.75"/>
<circle cx="657.0" cy="237.2" r="11.80" fill="#fff" fill-opacity="0.75"/>
<circle cx="593.2" cy="241.0" r="11.80" fill="#fff" fill-opacity="0.75"/>
<circle cx="592.4" cy="251.5" r="11.80" fill="#fff" fill-opacity="0.75"/>
<circle cx="593.2" cy="262.0" r="11.80" fill="#fff" fill-opacity="0.75"/>
<circle cx="616.9" cy="251.0" r="11.80" fill="#fff" fill-opacity="0.75"/>
<circle cx="720.3" cy="268.2" r="11.80" fill="#fff" fill-opacity="0.75"/>
<circle cx="671.4" cy="275.4" r="11.80" fill="#fff" fill-opacity="0.75"/>
<circle cx="671.4" cy="285.8" r="11.80" fill="#fff" fill-opacity="0.75"/>
<circle cx="983.3" cy="291.6" r="11.80" fill="#fff" fill-opacity="0.75"/>
<circle cx="839.2" cy="302.0" r="11.80" fill="#fff" fill-opacity="0.75"/>
<circle cx="850.5" cy="295.8" r="11.80" fill="#fff" fill-opacity="0.75"/>
<circle cx="601.6" cy="307.6" r="11.80" fill="#fff" fill-opacity="0.75"/>
<circle cx="1472.0" cy="319.0" r="11.80" fill="#fff" fill-opacity="0.75"/>
<circle cx="1539.6" cy="312.2" r="11.80" fill="#fff" fill-opacity="0.75"/>
<circle cx="1543.5" cy="321.0" r="11.80" fill="#fff" fill-opacity="0.75"/>
<circle cx="1544.7" cy="329.2" r="11.80" fill="#fff" fill-opacity="0.75"/>
<circle cx="1538.5" cy="338.5" r="11.80" fill="#fff" fill-opacity="0.75"/>
<circle cx="1531.6" cy="353.5" r="11.80" fill="#fff" fill-opacity="0.75"/>
<circle cx="1542.8" cy="360.8" r="11.80" fill="#fff" fill-opacity="0.75"/>
<circle cx="1536.0" cy="346.0" r="11.80" fill="#fff" fill-opacity="0.75"/>
<circle cx="1540.0" cy="368.5" r="11.80" fill="#fff" fill-opacity="0.75"/>
<circle cx="1521.4" cy="376.5" r="11.80" fill="#fff" fill-opacity="0.75"/>
<circle cx="1006.4" cy="385.7" r="11.80" fill="#fff" fill-opacity="0.75"/>
<circle cx="1026.4" cy="392.1" r="11.80" fill="#fff" fill-opacity="0.75"/>
<circle cx="1536.2" cy="396.4" r="11.80" fill="#fff" fill-opacity="0.75"/>
<circle cx="1545.5" cy="404.0" r="11.80" fill="#fff" fill-opacity="0.75"/>
<circle cx="1454.3" cy="409.4" r="11.80" fill="#fff" fill-opacity="0.75"/>
<circle cx="1454.3" cy="414.1" r="11.80" fill="#fff" fill-opacity="0.75"/>
<circle cx="1307.2" cy="419.8" r="11.80" fill="#fff" fill-opacity="0.75"/>
<circle cx="1590.6" cy="425.3" r="11.80" fill="#fff" fill-opacity="0.75"/>
<circle cx="1506.4" cy="436.8" r="11.80" fill="#fff" fill-opacity="0.75"/>
<circle cx="1541.3" cy="430.4" r="11.80" fill="#fff" fill-opacity="0.75"/>
<circle cx="1555.3" cy="442.3" r="11.80" fill="#fff" fill-opacity="0.75"/>
<circle cx="1552.3" cy="456.8" r="11.80" fill="#fff" fill-opacity="0.75"/>
<circle cx="1541.3" cy="476.4" r="11.80" fill="#fff" fill-opacity="0.75"/>
<circle cx="1623.4" cy="448.3" r="11.80" fill="#fff" fill-opacity="0.75"/>
<circle cx="1583.0" cy="464.5" r="11.80" fill="#fff" fill-opacity="0.75"/>
<circle cx="1553.0" cy="468.0" r="11.80" fill="#fff" fill-opacity="0.75"/>
<circle cx="1623.4" cy="482.0" r="11.80" fill="#fff" fill-opacity="0.75"/>
<circle cx="1618.8" cy="488.9" r="11.80" fill="#fff" fill-opacity="0.75"/>
<circle cx="1516.0" cy="493.6" r="11.80" fill="#fff" fill-opacity="0.75"/>
<circle cx="1537.9" cy="499.3" r="11.80" fill="#fff" fill-opacity="0.75"/>
<circle cx="1533.3" cy="507.4" r="11.80" fill="#fff" fill-opacity="0.75"/>
<circle cx="1536.8" cy="516.7" r="11.80" fill="#fff" fill-opacity="0.75"/>
<circle cx="1617.6" cy="520.1" r="11.80" fill="#fff" fill-opacity="0.75"/>
<circle cx="1613.0" cy="534.0" r="11.80" fill="#fff" fill-opacity="0.75"/>
<circle cx="1656.9" cy="532.8" r="11.80" fill="#fff" fill-opacity="0.75"/>
<circle cx="182.6" cy="137.9" r="14.45" fill="#fff" fill-opacity="0.75"/>
<circle cx="1529.6" cy="572.9" r="10.95" fill="#000"/>
<circle cx="970.0" cy="606.4" r="10.95" fill="#000"/>
<circle cx="641.1" cy="645.5" r="10.95" fill="#000"/>
<circle cx="641.6" cy="657.6" r="10.95" fill="#000"/>
<circle cx="660.6" cy="639.8" r="10.95" fill="#000"/>
<circle cx="720.2" cy="690.7" r="10.95" fill="#000"/>
<circle cx="871.3" cy="730.3" r="10.95" fill="#000"/>
<circle cx="891.7" cy="723.8" r="10.95" fill="#000"/>
<circle cx="1540.7" cy="763.8" r="10.95" fill="#000"/>
<circle cx="1532.7" cy="797.9" r="10.95" fill="#000"/>
<circle cx="1531.7" cy="831.7" r="10.95" fill="#000"/>
<circle cx="1551.7" cy="865.5" r="10.95" fill="#000"/>
<circle cx="1498.9" cy="899.0" r="10.95" fill="#000"/>
<circle cx="1529.7" cy="932.5" r="10.95" fill="#000"/>
<circle cx="1538.0" cy="965.2" r="10.95" fill="#000"/>
<circle cx="1534.0" cy="971.8" r="10.95" fill="#000"/>
<circle cx="1530.6" cy="978.5" r="10.95" fill="#000"/>
<circle cx="1489.4" cy="1011.5" r="10.95" fill="#000"/>
<circle cx="1537.0" cy="1014.6" r="10.95" fill="#000"/>
<circle cx="1532.7" cy="1028.6" r="10.95" fill="#000"/>
<circle cx="1539.7" cy="1039.7" r="10.95" fill="#000"/>
<circle cx="1528.5" cy="1046.7" r="10.95" fill="#000"/>
<circle cx="1635.6" cy="1034.4" r="10.95" fill="#000"/>
<circle cx="1534.6" cy="1079.5" r="10.95" fill="#000"/>
<circle cx="1528.9" cy="1113.0" r="10.95" fill="#000"/>
<circle cx="1543.7" cy="1146.6" r="10.95" fill="#000"/>
<circle cx="1496.2" cy="1180.2" r="10.95" fill="#000"/>
<circle cx="1527.8" cy="1185.3" r="10.95" fill="#000"/>
<circle cx="1598.6" cy="1191.4" r="10.95" fill="#000"/>
<circle cx="1508.9" cy="1197.2" r="10.95" fill="#000"/>
<circle cx="592.6" cy="1229.5" r="10.95" fill="#000"/>
<circle cx="592.6" cy="1238.5" r="10.95" fill="#000"/>
<circle cx="924.1" cy="1270.4" r="10.95" fill="#000"/>
<circle cx="658.2" cy="1303.5" r="10.95" fill="#000"/>
<circle cx="657.5" cy="1312.0" r="10.95" fill="#000"/>
<circle cx="657.0" cy="1320.5" r="10.95" fill="#000"/>
<circle cx="609.7" cy="1355.0" r="10.95" fill="#000"/>
<circle cx="1534.3" cy="1389.5" r="10.95" fill="#000"/>
<circle cx="1006.6" cy="1422.5" r="10.95" fill="#000"/>
<circle cx="1544.0" cy="1456.0" r="10.95" fill="#000"/>
<circle cx="1469.1" cy="1467.3" r="10.95" fill="#000"/>
<circle cx="1497.0" cy="1461.0" r="10.95" fill="#000"/>
<circle cx="1497.0" cy="1473.0" r="10.95" fill="#000"/>
<circle cx="1544.6" cy="1507.2" r="10.95" fill="#000"/>
<circle cx="1494.4" cy="1540.7" r="10.95" fill="#000"/>
<circle cx="1537.0" cy="1546.7" r="10.95" fill="#000"/>
<circle cx="1550.3" cy="1557.7" r="10.95" fill="#000"/>
<circle cx="1546.7" cy="1565.0" r="10.95" fill="#000"/>
<circle cx="1529.6" cy="1601.5" r="10.95" fill="#000"/>
<circle cx="1545.4" cy="1597.3" r="10.95" fill="#000"/>
<circle cx="1530.9" cy="1612.4" r="10.95" fill="#000"/>
<circle cx="1627.6" cy="1647.7" r="10.95" fill="#000"/>
<circle cx="1641.5" cy="1681.7" r="10.95" fill="#000"/>
<circle cx="1537.0" cy="1713.3" r="10.95" fill="#000"/>
<circle cx="1537.0" cy="1723.8" r="10.95" fill="#000"/>
<circle cx="1613.5" cy="1760.5" r="10.95" fill="#000"/>
<circle cx="1628.1" cy="1754.4" r="10.95" fill="#000"/>
<circle cx="1529.6" cy="1799.4" r="10.95" fill="#000"/>
<circle cx="1550.8" cy="1794.0" r="10.95" fill="#000"/>
<circle cx="1536.4" cy="1832.3" r="10.95" fill="#000"/>
<circle cx="1530.9" cy="1844.4" r="10.95" fill="#000"/>
<circle cx="1534.0" cy="1839.0" r="10.95" fill="#000"/>
<circle cx="1532.0" cy="1860.2" r="10.95" fill="#000"/>
<circle cx="1586.8" cy="1850.0" r="10.95" fill="#000"/>
<circle cx="1542.7" cy="1895.2" r="10.95" fill="#000"/>
<circle cx="1590.1" cy="1929.2" r="10.95" fill="#000"/>
<circle cx="1395.6" cy="1963.0" r="10.95" fill="#000"/>
<circle cx="1551.8" cy="1997.0" r="10.95" fill="#000"/>
<circle cx="1553.3" cy="2031.0" r="10.95" fill="#000"/>
<circle cx="1555.5" cy="2064.5" r="10.95" fill="#000"/>
<circle cx="1550.6" cy="2098.2" r="10.95" fill="#000"/>
<circle cx="1531.5" cy="2132.3" r="10.95" fill="#000"/>
<circle cx="1514.0" cy="2171.7" r="10.95" fill="#000"/>
<circle cx="1538.9" cy="2165.7" r="10.95" fill="#000"/>
<circle cx="625.7" cy="2205.3" r="10.95" fill="#000"/>
<circle cx="1535.9" cy="2239.2" r="10.95" fill="#000"/>
<circle cx="1511.6" cy="2272.7" r="10.95" fill="#000"/>
<circle cx="1550.5" cy="2306.7" r="10.95" fill="#000"/>
<circle cx="1530.4" cy="2340.4" r="10.95" fill="#000"/>
<circle cx="1664.4" cy="2373.5" r="10.95" fill="#000"/>
<circle cx="1664.4" cy="2380.0" r="10.95" fill="#000"/>
<circle cx="1554.7" cy="2413.4" r="10.95" fill="#000"/>
<circle cx="1498.5" cy="2453.0" r="10.95" fill="#000"/>
<circle cx="1545.0" cy="2446.9" r="10.95" fill="#000"/>
<circle cx="1538.3" cy="2487.0" r="10.95" fill="#000"/>
<circle cx="1534.3" cy="2525.9" r="10.95" fill="#000"/>
<circle cx="1624.6" cy="2520.4" r="10.95" fill="#000"/>
<circle cx="1528.9" cy="2560.0" r="10.95" fill="#000"/>
<circle cx="1531.9" cy="2594.3" r="10.95" fill="#000"/>
<circle cx="1551.7" cy="31.9" r="10.95" fill="#000"/>
<circle cx="1372.0" cy="66.0" r="10.95" fill="#000"/>
<circle cx="625.8" cy="121.6" r="10.95" fill="#000"/>
<circle cx="860.9" cy="104.8" r="10.95" fill="#000"/>
<circle cx="589.9" cy="98.2" r="10.95" fill="#000"/>
<circle cx="591.7" cy="107.4" r="10.95" fill="#000"/>
<circle cx="593.5" cy="116.5" r="10.95" fill="#000"/>
<circle cx="830.0" cy="127.6" r="10.95" fill="#000"/>
<circle cx="763.8" cy="132.9" r="10.95" fill="#000"/>
<circle cx="778.0" cy="150.0" r="10.95" fill="#000"/>
<circle cx="881.5" cy="136.4" r="10.95" fill="#000"/>
<circle cx="881.5" cy="144.2" r="10.95" fill="#000"/>
<circle cx="902.0" cy="155.9" r="10.95" fill="#000"/>
<circle cx="880.6" cy="161.7" r="10.95" fill="#000"/>
<circle cx="862.1" cy="166.6" r="10.95" fill="#000"/>
<circle cx="1467.8" cy="178.0" r="10.95" fill="#000"/>
<circle cx="916.6" cy="183.1" r="10.95" fill="#000"/>
<circle cx="763.8" cy="172.4" r="10.95" fill="#000"/>
<circle cx="619.8" cy="189.6" r="10.95" fill="#000"/>
<circle cx="606.3" cy="195.8" r="10.95" fill="#000"/>
<circle cx="592.9" cy="211.3" r="10.95" fill="#000"/>
<circle cx="642.4" cy="222.6" r="10.95" fill="#000"/>
<circle cx="657.7" cy="216.0" r="10.95" fill="#000"/>
<circle cx="657.0" cy="237.2" r="10.95" fill="#000"/>
<circle cx="593.2" cy="241.0" r="10.95" fill="#000"/>
<circle cx="592.4" cy="251.5" r="10.95" fill="#000"/>
<circle cx="593.2" cy="262.0" r="10.95" fill="#000"/>
<circle cx="616.9" cy="251.0" r="10.95" fill="#000"/>
<circle cx="720.3" cy="268.2" r="10.95" fill="#000"/>
<circle cx="671.4" cy="275.4" r="10.95" fill="#000"/>
<circle cx="671.4" cy="285.8" r="10.95" fill="#000"/>
<circle cx="983.3" cy="291.6" r="10.95" fill="#000"/>
<circle cx="839.2" cy="302.0" r="10.95" fill="#000"/>
<circle cx="850.5" cy="295.8" r="10.95" fill="#000"/>
<circle cx="601.6" cy="307.6" r="10.95" fill="#000"/>
<circle cx="1472.0" cy="319.0" r="10.95" fill="#000"/>
<circle cx="1539.6" cy="312.2" r="10.95" fill="#000"/>
<circle cx="1543.5" cy="321.0" r="10.95" fill="#000"/>
<circle cx="1544.7" cy="329.2" r="10.95" fill="#000"/>
<circle cx="1538.5" cy="338.5" r="10.95" fill="#000"/>
<circle cx="1531.6" cy="353.5" r="10.95" fill="#000"/>
<circle cx="1542.8" cy="360.8" r="10.95" fill="#000"/>
<circle cx="1536.0" cy="346.0" r="10.95" fill="#000"/>
<circle cx="1540.0" cy="368.5" r="10.95" fill="#000"/>
<circle cx="1521.4" cy="376.5" r="10.95" fill="#000"/>
<circle cx="1006.4" cy="385.7" r="10.95" fill="#000"/>
<circle cx="1026.4" cy="392.1" r="10.95" fill="#000"/>
<circle cx="1536.2" cy="396.4" r="10.95" fill="#000"/>
<circle cx="1545.5" cy="404.0" r="10.95" fill="#000"/>
<circle cx="1454.3" cy="409.4" r="10.95" fill="#000"/>
<circle cx="1454.3" cy="414.1" r="10.95" fill="#000"/>
<circle cx="1307.2" cy="419.8" r="10.95" fill="#000"/>
<circle cx="1590.6" cy="425.3" r="10.95" fill="#000"/>
<circle cx="1506.4" cy="436.8" r="10.95" fill="#000"/>
<circle cx="1541.3" cy="430.4" r="10.95" fill="#000"/>
<circle cx="1555.3" cy="442.3" r="10.95" fill="#000"/>
<circle cx="1552.3" cy="456.8" r="10.95" fill="#000"/>
<circle cx="1541.3" cy="476.4" r="10.95" fill="#000"/>
<circle cx="1623.4" cy="448.3" r="10.95" fill="#000"/>
<circle cx="1583.0" cy="464.5" r="10.95" fill="#000"/>
<circle cx="1553.0" cy="468.0" r="10.95" fill="#000"/>
<circle cx="1623.4" cy="482.0" r="10.95" fill="#000"/>
<circle cx="1618.8" cy="488.9" r="10.95" fill="#000"/>
<circle cx="1516.0" cy="493.6" r="10.95" fill="#000"/>
<circle cx="1537.9" cy="499.3" r="10.95" fill="#000"/>
<circle cx="1533.3" cy="507.4" r="10.95" fill="#000"/>
<circle cx="1536.8" cy="516.7" r="10.95" fill="#000"/>
<circle cx="1617.6" cy="520.1" r="10.95" fill="#000"/>
<circle cx="1613.0" cy="534.0" r="10.95" fill="#000"/>
<circle cx="1656.9" cy="532.8" r="10.95" fill="#000"/>
<circle cx="1529.6" cy="572.9" r="9.00" fill="#3f9a26"/>
<circle cx="970.0" cy="606.4" r="9.00" fill="#3f9a26"/>
<circle cx="641.1" cy="645.5" r="9.00" fill="#3f9a26"/>
<circle cx="641.6" cy="657.6" r="9.00" fill="#3f9a26"/>
<circle cx="660.6" cy="639.8" r="9.00" fill="#3f9a26"/>
<circle cx="720.2" cy="690.7" r="9.00" fill="#3f9a26"/>
<circle cx="871.3" cy="730.3" r="9.00" fill="#3f9a26"/>
<circle cx="891.7" cy="723.8" r="9.00" fill="#3f9a26"/>
<circle cx="1540.7" cy="763.8" r="9.00" fill="#3f9a26"/>
<circle cx="1532.7" cy="797.9" r="9.00" fill="#3f9a26"/>
<circle cx="1531.7" cy="831.7" r="9.00" fill="#3f9a26"/>
<circle cx="1551.7" cy="865.5" r="9.00" fill="#3f9a26"/>
<circle cx="1498.9" cy="899.0" r="9.00" fill="#3f9a26"/>
<circle cx="1529.7" cy="932.5" r="9.00" fill="#3f9a26"/>
<circle cx="1538.0" cy="965.2" r="9.00" fill="#3f9a26"/>
<circle cx="1534.0" cy="971.8" r="9.00" fill="#3f9a26"/>
<circle cx="1530.6" cy="978.5" r="9.00" fill="#3f9a26"/>
<circle cx="1489.4" cy="1011.5" r="9.00" fill="#3f9a26"/>
<circle cx="1537.0" cy="1014.6" r="9.00" fill="#3f9a26"/>
<circle cx="1532.7" cy="1028.6" r="9.00" fill="#3f9a26"/>
<circle cx="1539.7" cy="1039.7" r="9.00" fill="#3f9a26"/>
<circle cx="1528.5" cy="1046.7" r="9.00" fill="#3f9a26"/>
<circle cx="1635.6" cy="1034.4" r="9.00" fill="#3f9a26"/>
<circle cx="1534.6" cy="1079.5" r="9.00" fill="#3f9a26"/>
<circle cx="1528.9" cy="1113.0" r="9.00" fill="#3f9a26"/>
<circle cx="1543.7" cy="1146.6" r="9.00" fill="#4183c6"/>
<circle cx="1496.2" cy="1180.2" r="9.00" fill="#4183c6"/>
<circle cx="1527.8" cy="1185.3" r="9.00" fill="#4183c6"/>
<circle cx="1598.6" cy="1191.4" r="9.00" fill="#4183c6"/>
<circle cx="1508.9" cy="1197.2" r="9.00" fill="#4183c6"/>
<circle cx="592.6" cy="1229.5" r="9.00" fill="#4183c6"/>
<circle cx="592.6" cy="1238.5" r="9.00" fill="#4183c6"/>
<circle cx="924.1" cy="1270.4" r="9.00" fill="#4183c6"/>
<circle cx="658.2" cy="1303.5" r="9.00" fill="#4183c6"/>
<circle cx="657.5" cy="1312.0" r="9.00" fill="#4183c6"/>
<circle cx="657.0" cy="1320.5" r="9.00" fill="#4183c6"/>
<circle cx="609.7" cy="1355.0" r="9.00" fill="#4183c6"/>
<circle cx="1534.3" cy="1389.5" r="9.00" fill="#4183c6"/>
<circle cx="1006.6" cy="1422.5" r="9.00" fill="#4183c6"/>
<circle cx="1544.0" cy="1456.0" r="9.00" fill="#4183c6"/>
<circle cx="1469.1" cy="1467.3" r="9.00" fill="#4183c6"/>
<circle cx="1497.0" cy="1461.0" r="9.00" fill="#4183c6"/>
<circle cx="1497.0" cy="1473.0" r="9.00" fill="#4183c6"/>
<circle cx="1544.6" cy="1507.2" r="9.00" fill="#4183c6"/>
<circle cx="1494.4" cy="1540.7" r="9.00" fill="#4183c6"/>
<circle cx="1537.0" cy="1546.7" r="9.00" fill="#4183c6"/>
<circle cx="1550.3" cy="1557.7" r="9.00" fill="#4183c6"/>
<circle cx="1546.7" cy="1565.0" r="9.00" fill="#4183c6"/>
<circle cx="1529.6" cy="1601.5" r="9.00" fill="#4183c6"/>
<circle cx="1545.4" cy="1597.3" r="9.00" fill="#4183c6"/>
<circle cx="1530.9" cy="1612.4" r="9.00" fill="#4183c6"/>
<circle cx="1627.6" cy="1647.7" r="9.00" fill="#4183c6"/>
<circle cx="1641.5" cy="1681.7" r="9.00" fill="#4183c6"/>
<circle cx="1537.0" cy="1713.3" r="9.00" fill="#4183c6"/>
<circle cx="1537.0" cy="1723.8" r="9.00" fill="#4183c6"/>
<circle cx="1613.5" cy="1760.5" r="9.00" fill="#4183c6"/>
<circle cx="1628.1" cy="1754.4" r="9.00" fill="#4183c6"/>
<circle cx="1529.6" cy="1799.4" r="9.00" fill="#4183c6"/>
<circle cx="1550.8" cy="1794.0" r="9.00" fill="#4183c6"/>
<circle cx="1536.4" cy="1832.3" r="9.00" fill="#4183c6"/>
<circle cx="1530.9" cy="1844.4" r="9.00" fill="#4183c6"/>
<circle cx="1534.0" cy="1839.0" r="9.00" fill="#4183c6"/>
<circle cx="1532.0" cy="1860.2" r="9.00" fill="#4183c6"/>
<circle cx="1586.8" cy="1850.0" r="9.00" fill="#4183c6"/>
<circle cx="1542.7" cy="1895.2" r="9.00" fill="#f25c28"/>
<circle cx="1590.1" cy="1929.2" r="9.00" fill="#f25c28"/>
<circle cx="1395.6" cy="1963.0" r="9.00" fill="#f25c28"/>
<circle cx="1551.8" cy="1997.0" r="9.00" fill="#eadd36"/>
<circle cx="1553.3" cy="2031.0" r="9.00" fill="#eadd36"/>
<circle cx="1555.5" cy="2064.5" r="9.00" fill="#eadd36"/>
<circle cx="1550.6" cy="2098.2" r="9.00" fill="#eadd36"/>
<circle cx="1531.5" cy="2132.3" r="9.00" fill="#eadd36"/>
<circle cx="1514.0" cy="2171.7" r="9.00" fill="#a11b26"/>
<circle cx="1538.9" cy="2165.7" r="9.00" fill="#a11b26"/>
<circle cx="625.7" cy="2205.3" r="9.00" fill="#a11b26"/>
<circle cx="1535.9" cy="2239.2" r="9.00" fill="#a11b26"/>
<circle cx="1511.6" cy="2272.7" r="9.00" fill="#a11b26"/>
<circle cx="1550.5" cy="2306.7" r="9.00" fill="#a11b26"/>
<circle cx="1530.4" cy="2340.4" r="9.00" fill="#a11b26"/>
<circle cx="1664.4" cy="2373.5" r="9.00" fill="#a11b26"/>
<circle cx="1664.4" cy="2380.0" r="9.00" fill="#a11b26"/>
<circle cx="1554.7" cy="2413.4" r="9.00" fill="#a11b26"/>
<circle cx="1498.5" cy="2453.0" r="9.00" fill="#a11b26"/>
<circle cx="1545.0" cy="2446.9" r="9.00" fill="#a11b26"/>
<circle cx="1538.3" cy="2487.0" r="9.00" fill="#a11b26"/>
<circle cx="1534.3" cy="2525.9" r="9.00" fill="#a11b26"/>
<circle cx="1624.6" cy="2520.4" r="9.00" fill="#a11b26"/>
<circle cx="1528.9" cy="2560.0" r="9.00" fill="#a11b26"/>
<circle cx="1531.9" cy="2594.3" r="9.00" fill="#a11b26"/>
<circle cx="1551.7" cy="31.9" r="9.00" fill="#201c78"/>
<circle cx="1372.0" cy="66.0" r="9.00" fill="#201c78"/>
<circle cx="625.8" cy="121.6" r="9.00" fill="#201c78"/>
<circle cx="860.9" cy="104.8" r="9.00" fill="#201c78"/>
<circle cx="589.9" cy="98.2" r="9.00" fill="#201c78"/>
<circle cx="591.7" cy="107.4" r="9.00" fill="#201c78"/>
<circle cx="593.5" cy="116.5" r="9.00" fill="#201c78"/>
<circle cx="830.0" cy="127.6" r="9.00" fill="#201c78"/>
<circle cx="763.8" cy="132.9" r="9.00" fill="#201c78"/>
<circle cx="778.0" cy="150.0" r="9.00" fill="#201c78"/>
<circle cx="881.5" cy="136.4" r="9.00" fill="#201c78"/>
<circle cx="881.5" cy="144.2" r="9.00" fill="#201c78"/>
<circle cx="902.0" cy="155.9" r="9.00" fill="#201c78"/>
<circle cx="880.6" cy="161.7" r="9.00" fill="#201c78"/>
<circle cx="862.1" cy="166.6" r="9.00" fill="#201c78"/>
<circle cx="1467.8" cy="178.0" r="9.00" fill="#201c78"/>
<circle cx="916.6" cy="183.1" r="9.00" fill="#201c78"/>
<circle cx="763.8" cy="172.4" r="9.00" fill="#201c78"/>
<circle cx="619.8" cy="189.6" r="9.00" fill="#201c78"/>
<circle cx="606.3" cy="195.8" r="9.00" fill="#201c78"/>
<circle cx="592.9" cy="211.3" r="9.00" fill="#201c78"/>
<circle cx="642.4" cy="222.6" r="9.00" fill="#201c78"/>
<circle cx="657.7" cy="216.0" r="9.00" fill="#201c78"/>
<circle cx="657.0" cy="237.2" r="9.00" fill="#201c78"/>
<circle cx="593.2" cy="241.0" r="9.00" fill="#201c78"/>
<circle cx="592.4" cy="251.5" r="9.00" fill="#201c78"/>
<circle cx="593.2" cy="262.0" r="9.00" fill="#201c78"/>
<circle cx="616.9" cy="251.0" r="9.00" fill="#201c78"/>
<circle cx="720.3" cy="268.2" r="9.00" fill="#201c78"/>
<circle cx="671.4" cy="275.4" r="9.00" fill="#201c78"/>
<circle cx="671.4" cy="285.8" r="9.00" fill="#201c78"/>
<circle cx="983.3" cy="291.6" r="9.00" fill="#201c78"/>
<circle cx="839.2" cy="302.0" r="9.00" fill="#201c78"/>
<circle cx="850.5" cy="295.8" r="9.00" fill="#201c78"/>
<circle cx="601.6" cy="307.6" r="9.00" fill="#201c78"/>
<circle cx="1472.0" cy="319.0" r="9.00" fill="#201c78"/>
<circle cx="1539.6" cy="312.2" r="9.00" fill="#201c78"/>
<circle cx="1543.5" cy="321.0" r="9.00" fill="#201c78"/>
<circle cx="1544.7" cy="329.2" r="9.00" fill="#201c78"/>
<circle cx="1538.5" cy="338.5" r="9.00" fill="#201c78"/>
<circle cx="1531.6" cy="353.5" r="9.00" fill="#201c78"/>
<circle cx="1542.8" cy="360.8" r="9.00" fill="#201c78"/>
<circle cx="1536.0" cy="346.0" r="9.00" fill="#201c78"/>
<circle cx="1540.0" cy="368.5" r="9.00" fill="#201c78"/>
<circle cx="1521.4" cy="376.5" r="9.00" fill="#201c78"/>
<circle cx="1006.4" cy="385.7" r="9.00" fill="#201c78"/>
<circle cx="1026.4" cy="392.1" r="9.00" fill="#201c78"/>
<circle cx="1536.2" cy="396.4" r="9.00" fill="#201c78"/>
<circle cx="1545.5" cy="404.0" r="9.00" fill="#201c78"/>
<circle cx="1454.3" cy="409.4" r="9.00" fill="#201c78"/>
<circle cx="1454.3" cy="414.1" r="9.00" fill="#201c78"/>
<circle cx="1307.2" cy="419.8" r="9.00" fill="#201c78"/>
<circle cx="1590.6" cy="425.3" r="9.00" fill="#201c78"/>
<circle cx="1506.4" cy="436.8" r="9.00" fill="#201c78"/>
<circle cx="1541.3" cy="430.4" r="9.00" fill="#201c78"/>
<circle cx="1555.3" cy="442.3" r="9.00" fill="#201c78"/>
<circle cx="1552.3" cy="456.8" r="9.00" fill="#201c78"/>
<circle cx="1541.3" cy="476.4" r="9.00" fill="#201c78"/>
<circle cx="1623.4" cy="448.3" r="9.00" fill="#201c78"/>
<circle cx="1583.0" cy="464.5" r="9.00" fill="#201c78"/>
<circle cx="1553.0" cy="468.0" r="9.00" fill="#201c78"/>
<circle cx="1623.4" cy="482.0" r="9.00" fill="#201c78"/>
<circle cx="1618.8" cy="488.9" r="9.00" fill="#201c78"/>
<circle cx="1516.0" cy="493.6" r="9.00" fill="#201c78"/>
<circle cx="1537.9" cy="499.3" r="9.00" fill="#201c78"/>
<circle cx="1533.3" cy="507.4" r="9.00" fill="#201c78"/>
<circle cx="1536.8" cy="516.7" r="9.00" fill="#201c78"/>
<circle cx="1617.6" cy="520.1" r="9.00" fill="#201c78"/>
<circle cx="1613.0" cy="534.0" r="9.00" fill="#201c78"/>
<circle cx="1656.9" cy="532.8" r="9.00" fill="#201c78"/>
<circle cx="1037.0" cy="572.9" r="13.60" fill="#000"/>
<circle cx="742.3" cy="606.4" r="13.60" fill="#000"/>
<circle cx="287.0" cy="644.9" r="13.60" fill="#000"/>
<circle cx="559.6" cy="690.7" r="13.60" fill="#000"/>
<circle cx="679.8" cy="727.2" r="13.60" fill="#000"/>
<circle cx="1358.8" cy="763.8" r="13.60" fill="#000"/>
<circle cx="1362.5" cy="797.9" r="13.60" fill="#000"/>
<circle cx="1453.7" cy="831.7" r="13.60" fill="#000"/>
<circle cx="1420.1" cy="865.5" r="13.60" fill="#000"/>
<circle cx="1349.4" cy="899.0" r="13.60" fill="#000"/>
<circle cx="1434.4" cy="932.5" r="13.60" fill="#000"/>
<circle cx="1365.7" cy="970.8" r="13.60" fill="#000"/>
<circle cx="1199.5" cy="1024.7" r="13.60" fill="#000"/>
<circle cx="1452.7" cy="1079.5" r="13.60" fill="#000"/>
<circle cx="1474.4" cy="1113.0" r="13.60" fill="#000"/>
<circle cx="1237.9" cy="1146.6" r="13.60" fill="#000"/>
<circle cx="1036.7" cy="1185.3" r="13.60" fill="#000"/>
<circle cx="458.4" cy="1233.9" r="13.60" fill="#000"/>
<circle cx="808.5" cy="1270.4" r="13.60" fill="#000"/>
<circle cx="482.1" cy="1308.7" r="13.60" fill="#000"/>
<circle cx="524.7" cy="1355.0" r="13.60" fill="#000"/>
<circle cx="1420.0" cy="1389.5" r="13.60" fill="#000"/>
<circle cx="920.5" cy="1422.5" r="13.60" fill="#000"/>
<circle cx="900.1" cy="1461.0" r="13.60" fill="#000"/>
<circle cx="1173.4" cy="1507.2" r="13.60" fill="#000"/>
<circle cx="1306.7" cy="1546.3" r="13.60" fill="#000"/>
<circle cx="1307.1" cy="1605.6" r="13.60" fill="#000"/>
<circle cx="1551.5" cy="1647.7" r="13.60" fill="#000"/>
<circle cx="1543.0" cy="1681.7" r="13.60" fill="#000"/>
<circle cx="1275.5" cy="1718.0" r="13.60" fill="#000"/>
<circle cx="1440.9" cy="1757.6" r="13.60" fill="#000"/>
<circle cx="1366.7" cy="1797.0" r="13.60" fill="#000"/>
<circle cx="1332.7" cy="1842.7" r="13.60" fill="#000"/>
<circle cx="1298.3" cy="1895.2" r="13.60" fill="#000"/>
<circle cx="1447.0" cy="1929.2" r="13.60" fill="#000"/>
<circle cx="1326.3" cy="1963.0" r="13.60" fill="#000"/>
<circle cx="1274.0" cy="1997.0" r="13.60" fill="#000"/>
<circle cx="1434.2" cy="2031.0" r="13.60" fill="#000"/>
<circle cx="1199.2" cy="2064.5" r="13.60" fill="#000"/>
<circle cx="1356.7" cy="2098.2" r="13.60" fill="#000"/>
<circle cx="1447.0" cy="2132.3" r="13.60" fill="#000"/>
<circle cx="1238.0" cy="2168.7" r="13.60" fill="#000"/>
<circle cx="525.2" cy="2205.3" r="13.60" fill="#000"/>
<circle cx="1274.5" cy="2239.2" r="13.60" fill="#000"/>
<circle cx="1326.1" cy="2272.7" r="13.60" fill="#000"/>
<circle cx="1326.1" cy="2306.7" r="13.60" fill="#000"/>
<circle cx="1412.8" cy="2340.4" r="13.60" fill="#000"/>
<circle cx="1416.4" cy="2376.9" r="13.60" fill="#000"/>
<circle cx="1238.0" cy="2413.4" r="13.60" fill="#000"/>
<circle cx="1282.1" cy="2449.9" r="13.60" fill="#000"/>
<circle cx="1226.4" cy="2487.0" r="13.60" fill="#000"/>
<circle cx="1306.4" cy="2523.5" r="13.60" fill="#000"/>
<circle cx="1423.4" cy="2560.0" r="13.60" fill="#000"/>
<circle cx="1459.9" cy="2594.3" r="13.60" fill="#000"/>
<circle cx="1419.8" cy="31.9" r="13.60" fill="#000"/>
<circle cx="1327.4" cy="66.0" r="13.60" fill="#000"/>
<circle cx="182.6" cy="137.9" r="13.60" fill="#000"/>
<circle cx="1037.0" cy="572.9" r="10.20" fill="#201c78"/>
<circle cx="742.3" cy="606.4" r="10.20" fill="#201c78"/>
<circle cx="287.0" cy="644.9" r="10.20" fill="#201c78"/>
<circle cx="559.6" cy="690.7" r="10.20" fill="#201c78"/>
<circle cx="679.8" cy="727.2" r="10.20" fill="#201c78"/>
<circle cx="1358.8" cy="763.8" r="10.20" fill="#a31b26"/>
<circle cx="1362.5" cy="797.9" r="10.20" fill="#201c78"/>
<circle cx="1453.7" cy="831.7" r="10.20" fill="#201c78"/>
<circle cx="1420.1" cy="865.5" r="10.20" fill="#201c78"/>
<circle cx="1349.4" cy="899.0" r="10.20" fill="#201c78"/>
<circle cx="1434.4" cy="932.5" r="10.20" fill="#201c78"/>
<circle cx="1365.7" cy="970.8" r="10.20" fill="#201c78"/>
<circle cx="1199.5" cy="1024.7" r="10.20" fill="#201c78"/>
<circle cx="1452.7" cy="1079.5" r="10.20" fill="#4687c9"/>
<circle cx="1474.4" cy="1113.0" r="10.20" fill="#201c78"/>
<circle cx="1237.9" cy="1146.6" r="10.20" fill="#201c78"/>
<circle cx="1036.7" cy="1185.3" r="10.20" fill="#201c78"/>
<circle cx="458.4" cy="1233.9" r="10.20" fill="#201c78"/>
<circle cx="808.5" cy="1270.4" r="10.20" fill="#201c78"/>
<circle cx="482.1" cy="1308.7" r="10.20" fill="#201c78"/>
<circle cx="524.7" cy="1355.0" r="10.20" fill="#201c78"/>
<circle cx="1420.0" cy="1389.5" r="10.20" fill="#201c78"/>
<circle cx="920.5" cy="1422.5" r="10.20" fill="#201c78"/>
<circle cx="900.1" cy="1461.0" r="10.20" fill="#201c78"/>
<circle cx="1173.4" cy="1507.2" r="10.20" fill="#201c78"/>
<circle cx="1306.7" cy="1546.3" r="10.20" fill="#201c78"/>
<circle cx="1307.1" cy="1605.6" r="10.20" fill="#201c78"/>
<circle cx="1551.5" cy="1647.7" r="10.20" fill="#201c78"/>
<circle cx="1543.0" cy="1681.7" r="10.20" fill="#201c78"/>
<circle cx="1275.5" cy="1718.0" r="10.20" fill="#201c78"/>
<circle cx="1440.9" cy="1757.6" r="10.20" fill="#201c78"/>
<circle cx="1366.7" cy="1797.0" r="10.20" fill="#201c78"/>
<circle cx="1332.7" cy="1842.7" r="10.20" fill="#201c78"/>
<circle cx="1298.3" cy="1895.2" r="10.20" fill="#201c78"/>
<circle cx="1447.0" cy="1929.2" r="10.20" fill="#201c78"/>
<circle cx="1326.3" cy="1963.0" r="10.20" fill="#201c78"/>
<circle cx="1274.0" cy="1997.0" r="10.20" fill="#201c78"/>
<circle cx="1434.2" cy="2031.0" r="10.20" fill="#201c78"/>
<circle cx="1199.2" cy="2064.5" r="10.20" fill="#201c78"/>
<circle cx="1356.7" cy="2098.2" r="10.20" fill="#201c78"/>
<circle cx="1447.0" cy="2132.3" r="10.20" fill="#201c78"/>
<circle cx="1238.0" cy="2168.7" r="10.20" fill="#201c78"/>
<circle cx="525.2" cy="2205.3" r="10.20" fill="#201c78"/>
<circle cx="1274.5" cy="2239.2" r="10.20" fill="#201c78"/>
<circle cx="1326.1" cy="2272.7" r="10.20" fill="#201c78"/>
<circle cx="1326.1" cy="2306.7" r="10.20" fill="#201c78"/>
<circle cx="1412.8" cy="2340.4" r="10.20" fill="#201c78"/>
<circle cx="1416.4" cy="2376.9" r="10.20" fill="#201c78"/>
<circle cx="1238.0" cy="2413.4" r="10.20" fill="#201c78"/>
<circle cx="1282.1" cy="2449.9" r="10.20" fill="#201c78"/>
<circle cx="1226.4" cy="2487.0" r="10.20" fill="#201c78"/>
<circle cx="1306.4" cy="2523.5" r="10.20" fill="#201c78"/>
<circle cx="1423.4" cy="2560.0" r="10.20" fill="#4687c9"/>
<circle cx="1459.9" cy="2594.3" r="10.20" fill="#4687c9"/>
<circle cx="1419.8" cy="31.9" r="10.20" fill="#4687c9"/>
<circle cx="1327.4" cy="66.0" r="10.20" fill="#4687c9"/>
<circle cx="182.6" cy="137.9" r="10.20" fill="#6f706f"/>
<path d="M60.45 2653.4H1969.2" stroke="#000" stroke-width="2.6" fill="none"/>
<path d="M61.85 2653V2665.3M252.47 2653V2665.3M443.09 2653V2665.3M633.71 2653V2665.3M824.33 2653V2665.3M1014.95 2653V2665.3M1205.57 2653V2665.3M1396.19 2653V2665.3M1586.81 2653V2665.3M1777.43 2653V2665.3" stroke="#000" stroke-width="2.8" fill="none"/>
<g font-size="50.8" fill="#000" text-anchor="middle">
<text x="61.85" y="2715.6">2015</text>
<text x="252.47" y="2715.6">2016</text>
<text x="443.09" y="2715.6">2017</text>
<text x="633.71" y="2715.6">2018</text>
<text x="824.33" y="2715.6">2019</text>
<text x="1014.95" y="2715.6">2020</text>
<text x="1205.57" y="2715.6">2021</text>
<text x="1396.19" y="2715.6">2022</text>
<text x="1586.81" y="2715.6">2023</text>
<text x="1777.43" y="2715.6">2024</text>
</g>
</svg></body></html>
